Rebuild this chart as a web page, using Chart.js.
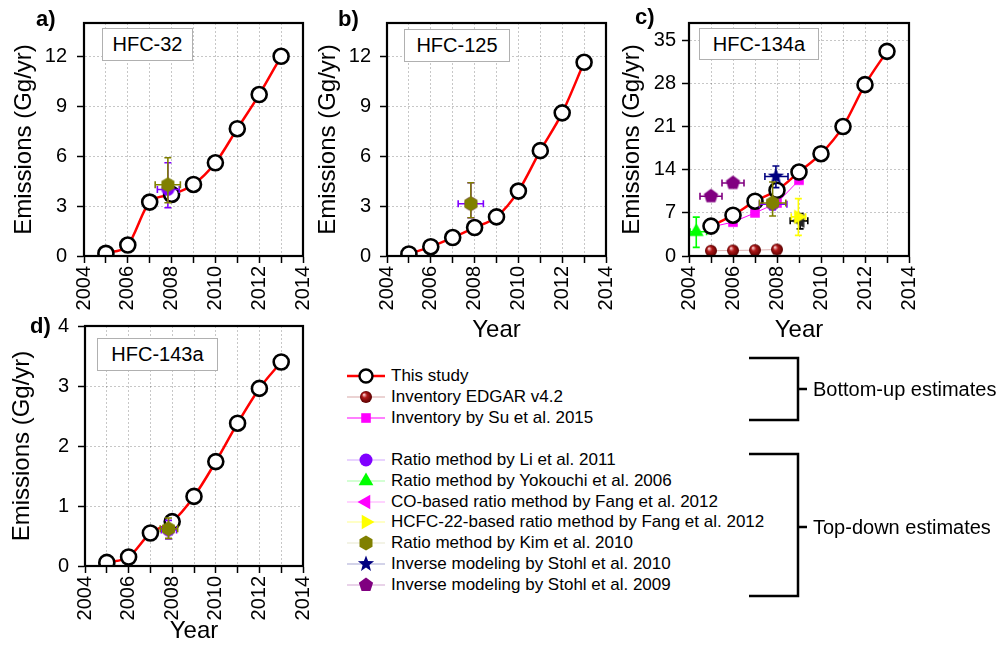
<!DOCTYPE html>
<html>
<head>
<meta charset="utf-8">
<script src="https://cdn.jsdelivr.net/npm/chart.js@4"></script>
<style>
  body { margin: 0; background: #fff; font-family: "Liberation Sans", Arial, sans-serif; }
  #wrap { position: relative; width: 1007px; height: 646px; overflow: hidden; }
  #wrap canvas.pc { position: absolute; }
  .tag { position: absolute; font-weight: bold; font-size: 22px; line-height: 22px; }
  .box { position: absolute; border: 1px solid #b0b0b0; background: #fff; font-size: 20px;
         display: flex; align-items: center; justify-content: center; box-sizing: border-box; }
  .row { position: absolute; left: 345px; height: 20px; font-size: 17px; line-height: 20px; white-space: nowrap; }
  .row canvas { position: absolute; left: 0; top: 0; }
  .row span { position: absolute; left: 46px; top: 0; }
  .grp { position: absolute; left: 813px; font-size: 20px; line-height: 24px; white-space: nowrap; }
</style>
</head>
<body>
<div id="wrap">
  <canvas class="pc" id="pa" width="315" height="320" style="left:0;top:0"></canvas>
  <canvas class="pc" id="pb" width="310" height="345" style="left:310px;top:0"></canvas>
  <canvas class="pc" id="pc" width="320" height="345" style="left:612px;top:0"></canvas>
  <canvas class="pc" id="pd" width="315" height="346" style="left:0;top:300px"></canvas>

  <div class="tag" style="left:36px;top:8px">a)</div>
  <div class="tag" style="left:338px;top:8px">b)</div>
  <div class="tag" style="left:635px;top:6px">c)</div>
  <div class="tag" style="left:30px;top:315px">d)</div>

  <div class="box" style="left:102px;top:28px;width:91px;height:33px">HFC-32</div>
  <div class="box" style="left:404px;top:29px;width:106px;height:33px">HFC-125</div>
  <div class="box" style="left:699px;top:28px;width:120px;height:32px">HFC-134a</div>
  <div class="box" style="left:97px;top:338px;width:121px;height:33px">HFC-143a</div>

  <div id="legend"></div>

  <svg width="1007" height="646" style="position:absolute;left:0;top:0;pointer-events:none">
    <path d="M749 358 H798 V420 H749 M798 389 H807" fill="none" stroke="#000" stroke-width="2.5"/>
    <path d="M749 454 H798 V596 H749 M798 527 H807" fill="none" stroke="#000" stroke-width="2.5"/>
  </svg>
  <div class="grp" style="top:377px">Bottom-up estimates</div>
  <div class="grp" style="top:515px">Top-down estimates</div>
</div>

<script>
// --- data ---
const years = [2005, 2006, 2007, 2008, 2009, 2010, 2011, 2012, 2013];
const gridYears = [2004, 2005, 2006, 2007, 2008, 2009, 2010, 2011, 2012, 2013, 2014];

// This study
const study32 = [0.16, 0.66, 3.24, 3.7, 4.3, 5.6, 7.65, 9.7, 12.0];
const study125 = [0.12, 0.56, 1.11, 1.71, 2.35, 3.9, 6.33, 8.6, 11.64];
const study134a = [4.85, 6.62, 8.89, 10.66, 13.62, 16.59, 21.0, 27.8, 33.2];
const study143a = [0.06, 0.15, 0.55, 0.74, 1.16, 1.74, 2.38, 2.96, 3.4];

// y tick labels per panel
const ticks32 = [0, 3, 6, 9, 12];
const ticks125 = [0, 3, 6, 9, 12];
const ticks134a = [0, 7, 14, 21, 28, 35];
const ticks143a = [0, 1, 2, 3, 4];

// Kim et al. 2010 / Li et al. 2011 (single year ~2008)
const kimX = [2007.83];
const kim32 = [4.28], kim32Y = [[3.2, 5.9]], kim32X = [[2007.25, 2008.4]];
const li32 = [4.0], li32Y = [[2.9, 5.6]], li32X = [[2007.35, 2008.35]];
const kim125 = [3.14], kim125Y = [[2.3, 4.4]], kim125X = [[2007.6, 2008.05]];
const li125 = [3.14], li125Y = [[2.3, 4.4]], li125X = [[2007.25, 2008.4]];
const kim143a = [0.62], kim143aY = [[0.46, 0.8]], kim143aX = [[2007.45, 2008.25]];
const li143a = [0.6], li143aY = [[0.45, 0.76]], li143aX = [[2007.5, 2008.2]];

// HFC-134a other estimates
const edgarYears = [2005, 2006, 2007, 2008];
const edgar134a = [0.85, 0.9, 0.95, 1.05];
const suYears = [2005, 2006, 2007, 2008, 2009];
const su134a = [4.7, 5.5, 7.0, 8.6, 12.3];
const kim134aX = [2007.8], kim134a = [8.6], kim134aY = [[6.5, 12.0]], kim134aXe = [[2007.2, 2008.4]];
const li134aX = [2007.8], li134a = [8.4], li134aY = [[7.5, 9.3]], li134aXe = [[2007.2, 2008.45]];
const yoko134aX = [2004.33], yoko134a = [3.93], yoko134aY = [[1.4, 6.3]], yoko134aXe = [[2004.05, 2004.8]];
const co134aX = [2009.05], co134a = [5.7], co134aY = [[4.4, 6.9]], co134aXe = [[2008.6, 2009.4]];
const hcfc134aX = [2008.97], hcfc134a = [6.35], hcfc134aY = [[3.35, 9.3]], hcfc134aXe = [[2008.65, 2009.3]];
const stohl10X = [2007.95], stohl10 = [12.9], stohl10Y = [[11.1, 14.6]], stohl10Xe = [[2007.45, 2008.5]];
const stohl09X = [2005, 2006], stohl09 = [9.7, 11.85], stohl09Y = [[9.3, 10.1], [11.45, 12.25]], stohl09Xe = [[2004.5, 2005.5], [2005.5, 2006.5]];

// --- marker drawing ---
function drawShape(ctx, shape, cx, cy, r, color) {
  ctx.save();
  ctx.fillStyle = color;
  ctx.beginPath();
  const poly = (n, start, radii) => {
    for (let i = 0; i < n; i++) {
      const a = start + i * 2 * Math.PI / n;
      const rr = radii ? radii[i % radii.length] : r;
      const px = cx + rr * Math.cos(a), py = cy + rr * Math.sin(a);
      if (i) ctx.lineTo(px, py); else ctx.moveTo(px, py);
    }
    ctx.closePath();
  };
  switch (shape) {
    case 'circle': ctx.arc(cx, cy, r, 0, 2 * Math.PI); break;
    case 'sphere': {
      const g = ctx.createRadialGradient(cx - r * 0.35, cy - r * 0.4, r * 0.1, cx, cy, r);
      g.addColorStop(0, '#f4c0c0');
      g.addColorStop(0.35, '#b01818');
      g.addColorStop(1, '#5a0000');
      ctx.fillStyle = g;
      ctx.arc(cx, cy, r, 0, 2 * Math.PI);
      break;
    }
    case 'square': ctx.rect(cx - r * 0.8, cy - r * 0.8, r * 1.6, r * 1.6); break;
    case 'triUp': poly(3, -Math.PI / 2); break;
    case 'triLeft': poly(3, Math.PI); break;
    case 'triRight': poly(3, 0); break;
    case 'hexagon': poly(6, -Math.PI / 2); break;
    case 'pentagon': poly(5, -Math.PI / 2); break;
    case 'star': poly(10, -Math.PI / 2, [r, r * 0.42]); break;
  }
  ctx.fill();
  ctx.restore();
}

const sizes = { circle: 6.5, sphere: 6, square: 6, triUp: 8.5, triLeft: 8.5, triRight: 8.5, hexagon: 7.5, pentagon: 7.5, star: 8.5 };

function marker(shape, color) {
  const r = sizes[shape];
  const c = document.createElement('canvas');
  const s = Math.ceil(r * 2 + 2);
  c.width = c.height = s;
  drawShape(c.getContext('2d'), shape, s / 2, s / 2, r, color);
  return c;
}

const colors = {
  edgar: '#8b0000', su: '#ff00ff', li: '#8000ff', yoko: '#00ff00', co: '#ff00ff',
  hcfc: '#ffff00', kim: '#808000', stohl10: '#000080', stohl09: '#800080'
};

const pts = (xs, ys) => ys.map((v, i) => ({ x: xs[i], y: v }));

function studySet(values) {
  return {
    data: pts(years, values), showLine: true, borderColor: '#ff0000', borderWidth: 2.5,
    cubicInterpolationMode: 'monotone',
    pointRadius: 7.5, pointBorderWidth: 2.6, pointBorderColor: '#000', pointBackgroundColor: '#fff'
  };
}

function est(xs, ys, shape, color, errY, errX, errColor) {
  return {
    data: pts(xs, ys), showLine: false, pointStyle: marker(shape, color), pointRadius: 7,
    errY: errY, errX: errX, errColor: errColor || color
  };
}

// error bars drawn right before each dataset's points
const errorBarPlugin = {
  id: 'errorBars',
  beforeDatasetDraw(chart, args) {
    const ds = chart.data.datasets[args.index];
    if (!ds.errY && !ds.errX) return;
    const { ctx, scales: { x, y } } = chart;
    ctx.save();
    ctx.strokeStyle = ds.errColor;
    ctx.lineWidth = 1.6;
    ds.data.forEach((p, i) => {
      const px = x.getPixelForValue(p.x), py = y.getPixelForValue(p.y);
      ctx.beginPath();
      if (ds.errY && ds.errY[i]) {
        const y0 = y.getPixelForValue(ds.errY[i][0]), y1 = y.getPixelForValue(ds.errY[i][1]);
        ctx.moveTo(px, y0); ctx.lineTo(px, y1);
        ctx.moveTo(px - 3.5, y0); ctx.lineTo(px + 3.5, y0);
        ctx.moveTo(px - 3.5, y1); ctx.lineTo(px + 3.5, y1);
      }
      if (ds.errX && ds.errX[i]) {
        const x0 = x.getPixelForValue(ds.errX[i][0]), x1 = x.getPixelForValue(ds.errX[i][1]);
        ctx.moveTo(x0, py); ctx.lineTo(x1, py);
        ctx.moveTo(x0, py - 3.5); ctx.lineTo(x0, py + 3.5);
        ctx.moveTo(x1, py - 3.5); ctx.lineTo(x1, py + 3.5);
      }
      ctx.stroke();
    });
    ctx.restore();
  }
};

// black box around the plot area
const framePlugin = {
  id: 'frame',
  afterDraw(chart) {
    const { ctx, chartArea: a } = chart;
    ctx.save();
    ctx.strokeStyle = '#000';
    ctx.lineWidth = 2.2;
    ctx.strokeRect(a.left, a.top, a.right - a.left, a.bottom - a.top);
    ctx.restore();
  }
};

Chart.defaults.font.family = '"Liberation Sans", Arial, sans-serif';
Chart.defaults.color = '#000';

function noPad(s) { s.paddingLeft = 0; s.paddingRight = 0; s.paddingTop = 0; s.paddingBottom = 0; }

function panel(id, p) {
  return new Chart(document.getElementById(id), {
    type: 'scatter',
    data: { datasets: p.datasets },
    options: {
      responsive: false,
      animation: false,
      layout: { padding: { left: 0, right: p.padRight, top: p.padTop, bottom: 0 } },
      plugins: { legend: { display: false }, tooltip: { enabled: false } },
      scales: {
        x: {
          type: 'linear', min: 2004, max: 2014,
          afterBuildTicks: s => { s.ticks = gridYears.map(v => ({ value: v })); },
          afterFit: s => { s.height = p.xH; noPad(s); },
          ticks: { autoSkip: false, minRotation: 90, maxRotation: 90, padding: 3,
                   font: { size: 20 }, callback: v => (v % 2 === 0 ? String(v) : '') },
          grid: { color: 'rgba(0,0,0,0.22)', tickColor: '#000', tickLength: 7, tickWidth: 1.5 },
          border: { color: '#000', width: 2, dash: [2, 2] },
          title: { display: p.showYear, text: 'Year', font: { size: 24 }, padding: 0 }
        },
        y: {
          min: 0, max: p.yMax,
          afterBuildTicks: s => { s.ticks = p.yTicks.map(v => ({ value: v })); },
          afterFit: s => { s.width = p.yW; noPad(s); },
          ticks: { font: { size: 20 }, padding: p.tickPad },
          grid: { color: 'rgba(0,0,0,0.22)', tickColor: '#000', tickLength: 7, tickWidth: 1.5 },
          border: { color: '#000', width: 2, dash: [2, 2] },
          title: { display: true, text: 'Emissions (Gg/yr)', font: { size: 24 },
                   padding: { top: p.titlePad, bottom: 0 } }
        }
      }
    },
    plugins: [errorBarPlugin, framePlugin]
  });
}

// dataset index 0 is drawn on top
panel('pa', {
  yMax: 14, yTicks: ticks32, yW: 84, padRight: 12, padTop: 23, xH: 64, showYear: false, tickPad: 10, titlePad: 9.5,
  datasets: [
    est(kimX, kim32, 'hexagon', colors.kim, kim32Y, kim32X),
    est(kimX, li32, 'circle', colors.li, li32Y, li32X),
    studySet(study32)
  ]
});

panel('pb', {
  yMax: 14, yTicks: ticks125, yW: 77, padRight: 14, padTop: 23, xH: 89, showYear: true, tickPad: 9, titlePad: 3.5,
  datasets: [
    est(kimX, kim125, 'hexagon', colors.kim, kim125Y, kim125X),
    est(kimX, li125, 'circle', colors.li, li125Y, li125X),
    studySet(study125)
  ]
});

panel('pc', {
  yMax: 37.8, yTicks: ticks134a, yW: 77, padRight: 23, padTop: 23, xH: 89, showYear: true, tickPad: 6, titlePad: 5.5,
  datasets: [
    est(kim134aX, kim134a, 'hexagon', colors.kim, kim134aY, kim134aXe),
    est(li134aX, li134a, 'circle', colors.li, li134aY, li134aXe),
    est(stohl10X, stohl10, 'star', colors.stohl10, stohl10Y, stohl10Xe),
    est(hcfc134aX, hcfc134a, 'triRight', colors.hcfc, hcfc134aY, hcfc134aXe),
    est(co134aX, co134a, 'triLeft', '#222', co134aY, co134aXe, '#000'),
    studySet(study134a),
    est(stohl09X, stohl09, 'pentagon', colors.stohl09, stohl09Y, stohl09Xe),
    est(yoko134aX, yoko134a, 'triUp', colors.yoko, yoko134aY, yoko134aXe),
    Object.assign(est(suYears, su134a, 'square', colors.su), { showLine: true, borderColor: colors.su, borderWidth: 1 }),
    Object.assign(est(edgarYears, edgar134a, 'sphere', colors.edgar), { showLine: true, borderColor: 'rgba(139,0,0,0.3)', borderWidth: 1 })
  ]
});

panel('pd', {
  yMax: 4, yTicks: ticks143a, yW: 85, padRight: 12, padTop: 26, xH: 80, showYear: true, tickPad: 9, titlePad: 8,
  datasets: [
    est(kimX, kim143a, 'hexagon', colors.kim, kim143aY, kim143aX),
    est(kimX, li143a, 'circle', colors.li, li143aY, li143aX),
    studySet(study143a)
  ]
});

// --- legend ---
const legendItems = [
  ['This study', 'study', '#000', '#ff0000', 376],
  ['Inventory EDGAR v4.2', 'sphere', colors.edgar, 'rgba(139,0,0,0.35)', 397],
  ['Inventory by Su et al. 2015', 'square', colors.su, '#ff00ff', 418],
  ['Ratio method by Li et al. 2011', 'circle', colors.li, 'rgba(128,0,255,0.35)', 460],
  ['Ratio method by Yokouchi et al. 2006', 'triUp', colors.yoko, 'rgba(0,255,0,0.35)', 481],
  ['CO-based ratio method by Fang et al. 2012', 'triLeft', colors.co, 'rgba(255,0,255,0.35)', 502],
  ['HCFC-22-based ratio method by Fang et al. 2012', 'triRight', colors.hcfc, 'rgba(255,255,0,0.45)', 522],
  ['Ratio method by Kim et al. 2010', 'hexagon', colors.kim, 'rgba(128,128,0,0.2)', 543],
  ['Inverse modeling by Stohl et al. 2010', 'star', colors.stohl10, 'rgba(0,0,128,0.35)', 564],
  ['Inverse modeling by Stohl et al. 2009', 'pentagon', colors.stohl09, 'rgba(128,0,128,0.35)', 585]
];

const legend = document.getElementById('legend');
legendItems.forEach(([label, shape, color, lineColor, cy]) => {
  const row = document.createElement('div');
  row.className = 'row';
  row.style.top = (cy - 10) + 'px';
  const c = document.createElement('canvas');
  c.width = 42; c.height = 20;
  const ctx = c.getContext('2d');
  ctx.strokeStyle = lineColor;
  ctx.lineWidth = shape === 'study' ? 2.5 : 1.2;
  ctx.beginPath(); ctx.moveTo(2, 10); ctx.lineTo(40, 10); ctx.stroke();
  if (shape === 'study') {
    ctx.beginPath(); ctx.arc(21, 10, 6.5, 0, 2 * Math.PI);
    ctx.fillStyle = '#fff'; ctx.fill();
    ctx.lineWidth = 2.4; ctx.strokeStyle = '#000'; ctx.stroke();
  } else {
    drawShape(ctx, shape, 21, 10, sizes[shape], color);
  }
  const span = document.createElement('span');
  span.textContent = label;
  row.appendChild(c);
  row.appendChild(span);
  legend.appendChild(row);
});
</script>
</body>
</html>
